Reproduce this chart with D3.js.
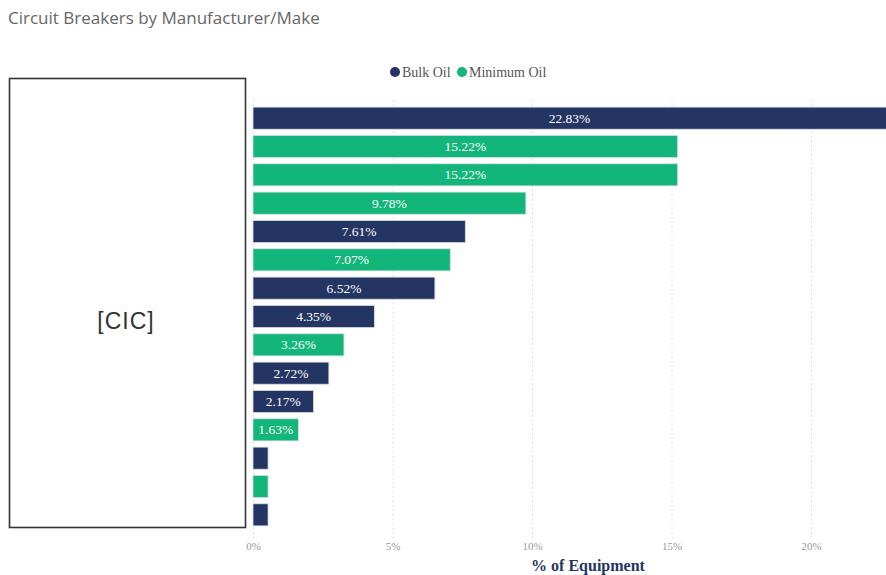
<!DOCTYPE html>
<html>
<head>
<meta charset="utf-8">
<script src="https://cdn.jsdelivr.net/npm/d3@7"></script>
<style>
  body { margin: 0; background: #fff; }
</style>
</head>
<body>
<div id="chart"></div>
<script>
// manufacturer names are hidden behind the [CIC] box in the original
var makes = ["Make 1", "Make 2", "Make 3", "Make 4", "Make 5", "Make 6", "Make 7", "Make 8",
             "Make 9", "Make 10", "Make 11", "Make 12", "Make 13", "Make 14", "Make 15"];
var share = [22.83, 15.22, 15.22, 9.78, 7.61, 7.07, 6.52, 4.35, 3.26, 2.72, 2.17, 1.63, 0.54, 0.54, 0.54];
var oilType = ["Bulk Oil", "Minimum Oil", "Minimum Oil", "Minimum Oil", "Bulk Oil", "Minimum Oil",
               "Bulk Oil", "Bulk Oil", "Minimum Oil", "Bulk Oil", "Bulk Oil", "Minimum Oil",
               "Bulk Oil", "Minimum Oil", "Bulk Oil"];
var types = ["Bulk Oil", "Minimum Oil"];
var xTicks = [0, 5, 10, 15, 20];

function init() {
    var w = 886;
    var h = 575;
    var left = 253;
    var plotRight = 886;
    var serif = "'Liberation Serif', 'Times New Roman', serif";

    var color = d3.scaleOrdinal()
                  .domain(types)
                  .range(["#243563", "#12b57a"]);

    var xscale = d3.scaleLinear()
                   .domain([0, 20])
                   .range([left, 811]);

    var yscale = d3.scaleBand()
                   .domain(makes)
                   .range([104, 529])
                   .paddingInner(0.22)
                   .paddingOuter(0.11);

    var svg = d3.select("#chart")
                .append("svg")
                .attr("width", w)
                .attr("height", h)
                .style("display", "block");

    svg.append("defs").append("clipPath")
        .attr("id", "plotclip")
        .append("rect")
        .attr("x", left - 2).attr("y", 90)
        .attr("width", plotRight - left + 2).attr("height", 460);

    // title
    svg.append("text")
        .attr("x", 8)
        .attr("y", 24)
        .text("Circuit Breakers by Manufacturer/Make")
        .style("font-family", "'Segoe UI', 'Open Sans', sans-serif")
        .style("font-size", "17px")
        .attr("fill", "#666");

    // legend
    var legendX = [395, 462];
    var legend = svg.selectAll(".legend")
        .data(types)
        .enter()
        .append("g")
        .attr("transform", function(d, i) { return "translate(" + legendX[i] + ",72)"; });
    legend.append("circle")
        .attr("r", 5)
        .attr("fill", function(d) { return color(d); });
    legend.append("text")
        .attr("x", 7)
        .attr("y", 4.5)
        .text(function(d) { return d; })
        .style("font-family", serif)
        .style("font-size", "14px")
        .attr("fill", "#555");

    // x axis with dotted gridlines
    var xAxis = d3.axisBottom(xscale)
                  .tickValues(xTicks)
                  .tickFormat(function(d) { return d + "%"; })
                  .tickSize(-(538 - 100))
                  .tickPadding(4);

    var gx = svg.append("g")
        .attr("transform", "translate(0,538)")
        .call(xAxis);
    gx.select(".domain").remove();
    gx.selectAll(".tick line")
        .attr("stroke", "#d6d6d6")
        .attr("stroke-dasharray", "1.5,3");
    gx.selectAll(".tick text")
        .attr("fill", "#999")
        .style("font-family", serif)
        .style("font-size", "11px");

    svg.append("text")
        .attr("x", 588)
        .attr("y", 571)
        .attr("text-anchor", "middle")
        .text("% of Equipment")
        .style("font-family", serif)
        .style("font-weight", "bold")
        .style("font-size", "16px")
        .attr("fill", "#243563");

    // bars
    var plot = svg.append("g").attr("clip-path", "url(#plotclip)");
    plot.selectAll("rect")
        .data(makes)
        .enter()
        .append("rect")
        .attr("x", xscale(0))
        .attr("y", function(d) { return yscale(d); })
        .attr("width", function(d, i) { return xscale(share[i]) - xscale(0); })
        .attr("height", yscale.bandwidth())
        .attr("fill", function(d, i) { return color(oilType[i]); })
        .attr("stroke", "#d8dde8")
        .attr("stroke-width", 0.8);

    // data labels, centred on the visible part of the bar
    svg.selectAll(".lbl")
        .data(makes.filter(function(d, i) { return share[i] >= 1; }))
        .enter()
        .append("text")
        .attr("class", "lbl")
        .attr("x", function(d) {
            var i = makes.indexOf(d);
            var end = Math.min(xscale(share[i]), plotRight);
            return (xscale(0) + end) / 2;
        })
        .attr("y", function(d) { return yscale(d) + yscale.bandwidth() / 2 + 4.5; })
        .attr("text-anchor", "middle")
        .text(function(d) { return share[makes.indexOf(d)].toFixed(2) + "%"; })
        .style("font-family", serif)
        .style("font-size", "13.5px")
        .attr("fill", "#fff");

    // box that hides the category labels
    svg.append("rect")
        .attr("x", 9.5)
        .attr("y", 78.5)
        .attr("width", 236)
        .attr("height", 449)
        .attr("fill", "#fff")
        .attr("stroke", "#333")
        .attr("stroke-width", 1.6);
    svg.append("text")
        .attr("x", 126)
        .attr("y", 329)
        .attr("text-anchor", "middle")
        .text("[CIC]")
        .style("font-family", "'Liberation Sans', Arial, sans-serif")
        .style("font-size", "23px")
        .style("letter-spacing", "1px")
        .attr("fill", "#333");
}
window.onload = init;
</script>
</body>
</html>
